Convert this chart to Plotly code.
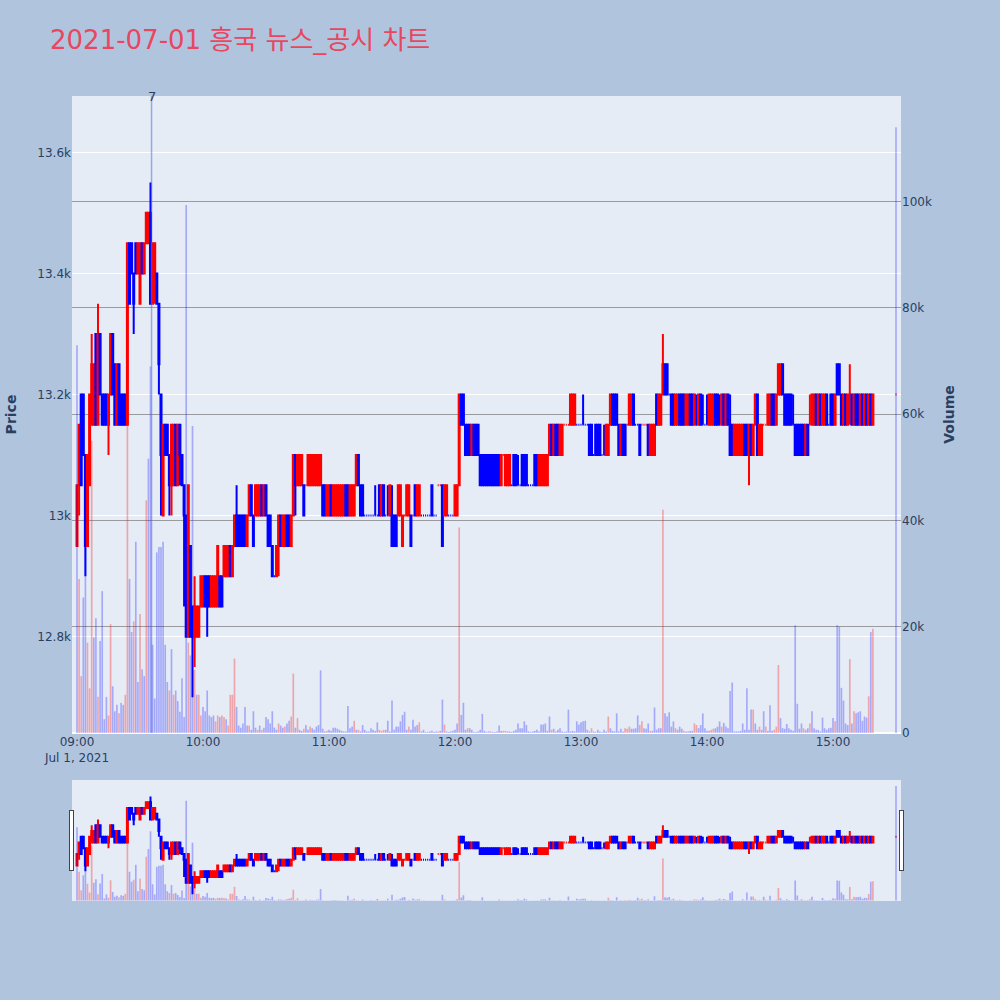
import pandas as pd
import plotly.graph_objects as go
from plotly.subplots import make_subplots

# ---------------- data (1-minute candles, 09:00 .. 15:19, plus 15:30 closing auction) ----------------
opens = [
    12950,13050,13200,13200,13100,12950,13050,13150,13150,13300,
    13150,13300,13200,13200,13200,13150,13200,13300,13250,13150,
    13250,13200,13200,13200,13150,13450,13450,13400,13450,13400,
    13350,13450,13400,13450,13450,13500,13350,13400,13400,13350,
    13200,13000,13150,13150,13100,13050,13050,13150,13050,13150,
    13100,13050,13000,12800,12950,12850,12800,12800,12800,12850,
    12850,12900,12900,12900,12850,12850,12850,12850,12900,12900,
    12900,12900,12900,12950,12900,12950,13000,13000,13000,13000,
    13000,12950,13000,13050,13000,13000,13000,13000,13050,13000,
    13050,13000,13000,12950,12900,12900,12950,13000,12950,12950,
    13000,13000,12950,13000,13100,13050,13050,13050,13050,13050,
    13050,13050,13050,13050,13050,13050,13050,13050,13050,13000,
    13000,13050,13000,13000,13000,13000,13000,13000,13050,13050,
    13000,13000,13000,13050,13100,13050,13050,13000,13000,13000,
    13000,13000,13000,13000,13050,13000,13050,13000,13000,13000,
    13000,13000,13000,13000,13000,12950,13000,13000,13000,13000,
    13000,13050,13000,13000,13000,13000,13000,13000,13000,13050,
    13000,13000,13050,13050,13050,13000,13000,13000,13000,13000,
    13000,13000,13050,13200,13200,13150,13150,13150,13100,13150,
    13150,13150,13100,13100,13100,13100,13100,13100,13100,13100,
    13100,13100,13050,13100,13050,13050,13050,13050,13100,13100,
    13050,13050,13100,13100,13100,13050,13050,13050,13100,13100,
    13050,13050,13050,13050,13050,13100,13150,13100,13150,13150,
    13100,13100,13150,13150,13150,13150,13150,13150,13150,13150,
    13150,13150,13150,13150,13150,13150,13100,13150,13150,13150,
    13100,13100,13100,13100,13150,13200,13200,13200,13150,13100,
    13150,13150,13150,13150,13150,13200,13150,13150,13150,13150,
    13150,13150,13150,13100,13100,13100,13200,13150,13150,13200,
    13250,13250,13200,13200,13200,13150,13150,13200,13200,13200,
    13150,13150,13200,13200,13150,13150,13150,13200,13150,13150,
    13150,13150,13150,13150,13200,13200,13150,13150,13200,13150,
    13200,13150,13150,13100,13100,13100,13100,13100,13150,13150,
    13100,13150,13100,13150,13200,13100,13100,13150,13150,13150,
    13150,13200,13200,13150,13200,13200,13250,13200,13200,13200,
    13200,13150,13150,13150,13150,13150,13150,13100,13150,13150,
    13150,13150,13200,13150,13200,13150,13150,13200,13150,13200,
    13200,13150,13250,13250,13200,13150,13200,13150,13200,13200,
    13150,13200,13200,13150,13200,13150,13200,13150,13200,13150,
    13200,
]
highs = [
    13050,13150,13200,13200,13100,13100,13200,13300,13250,13300,
    13350,13300,13200,13200,13200,13200,13300,13300,13250,13250,
    13250,13200,13200,13200,13450,13450,13450,13400,13450,13450,
    13450,13450,13450,13500,13500,13550,13450,13450,13400,13350,
    13200,13150,13150,13150,13100,13150,13150,13150,13150,13150,
    13100,13050,13000,13050,12950,12850,12900,12850,12850,12900,
    12900,12900,12900,12900,12900,12900,12900,12950,12900,12900,
    12950,12950,12950,12950,12950,13000,13050,13000,13000,13000,
    13000,13000,13050,13050,13000,13050,13050,13050,13050,13050,
    13050,13000,13000,12950,12900,12950,13000,13000,13000,13000,
    13000,13000,13000,13100,13100,13100,13100,13100,13050,13050,
    13100,13100,13100,13100,13100,13100,13100,13050,13050,13050,
    13050,13050,13050,13050,13050,13050,13050,13050,13050,13050,
    13050,13050,13050,13100,13100,13050,13050,13000,13000,13000,
    13000,13000,13050,13000,13050,13050,13050,13000,13050,13050,
    13050,13000,13000,13050,13050,13000,13000,13050,13050,13000,
    13000,13050,13050,13050,13000,13000,13000,13000,13000,13050,
    13000,13000,13050,13050,13050,13050,13050,13000,13000,13000,
    13050,13050,13200,13200,13200,13150,13150,13150,13150,13150,
    13150,13150,13100,13100,13100,13100,13100,13100,13100,13100,
    13100,13100,13100,13100,13100,13100,13100,13050,13100,13100,
    13100,13050,13100,13100,13100,13050,13050,13050,13100,13100,
    13100,13100,13100,13100,13100,13150,13150,13150,13150,13150,
    13150,13150,13150,13150,13150,13200,13200,13200,13150,13150,
    13150,13200,13150,13150,13150,13150,13100,13150,13150,13150,
    13100,13150,13150,13150,13200,13200,13200,13200,13150,13150,
    13150,13150,13150,13200,13200,13200,13150,13150,13150,13150,
    13150,13150,13150,13150,13150,13150,13200,13200,13200,13300,
    13250,13250,13200,13200,13200,13200,13200,13200,13200,13200,
    13200,13200,13200,13200,13200,13200,13200,13200,13200,13150,
    13200,13200,13200,13200,13200,13200,13200,13200,13200,13200,
    13200,13200,13150,13150,13150,13150,13150,13150,13150,13150,
    13150,13150,13150,13200,13200,13150,13150,13150,13150,13200,
    13200,13200,13200,13200,13250,13250,13250,13200,13200,13200,
    13200,13200,13150,13150,13150,13150,13150,13150,13150,13200,
    13200,13200,13200,13200,13200,13200,13200,13200,13150,13200,
    13200,13200,13250,13250,13200,13200,13200,13200,13250,13200,
    13200,13200,13200,13200,13200,13200,13200,13200,13200,13200,
    13200,
]
lows = [
    12950,13000,13050,13100,12900,12950,13050,13150,13150,13150,
    13150,13200,13150,13150,13150,13100,13200,13200,13150,13150,
    13150,13150,13150,13150,13150,13350,13400,13300,13400,13400,
    13350,13400,13400,13450,13450,13350,13350,13350,13350,13200,
    13000,13000,13100,13100,13000,13000,13050,13050,13050,13050,
    13050,12850,12800,12800,12800,12700,12750,12800,12800,12850,
    12850,12850,12800,12850,12850,12850,12850,12850,12850,12850,
    12900,12900,12900,12900,12900,12950,12950,12950,12950,12950,
    12950,12950,13000,13000,12950,13000,13000,13000,13000,13000,
    13000,12950,12950,12900,12900,12900,12900,12950,12950,12950,
    12950,12950,12950,13000,13000,13050,13050,13050,13000,13050,
    13050,13050,13050,13050,13050,13050,13050,13000,13000,13000,
    13000,13000,13000,13000,13000,13000,13000,13000,13000,13000,
    13000,13000,13000,13050,13050,13000,13000,13000,13000,13000,
    13000,13000,13000,13000,13000,13000,13000,13000,13000,13000,
    12950,12950,12950,13000,13000,12950,13000,13000,13000,12950,
    13000,13000,13000,13000,13000,13000,13000,13000,13000,13000,
    13000,13000,13050,13050,12950,13000,13000,13000,13000,13000,
    13000,13000,13050,13150,13150,13100,13100,13100,13100,13100,
    13100,13100,13050,13050,13050,13050,13050,13050,13050,13050,
    13050,13050,13050,13100,13050,13050,13050,13050,13050,13050,
    13050,13050,13050,13050,13050,13050,13050,13050,13050,13050,
    13050,13050,13050,13050,13050,13100,13100,13100,13100,13100,
    13100,13100,13150,13150,13150,13150,13150,13150,13150,13150,
    13150,13150,13150,13150,13100,13100,13100,13100,13100,13100,
    13100,13100,13100,13100,13150,13150,13150,13150,13100,13100,
    13100,13100,13150,13150,13150,13150,13150,13150,13100,13150,
    13150,13150,13100,13100,13100,13100,13150,13150,13150,13200,
    13200,13200,13200,13150,13150,13150,13150,13150,13150,13150,
    13150,13150,13150,13150,13150,13150,13150,13150,13150,13150,
    13150,13150,13150,13150,13150,13150,13150,13150,13150,13150,
    13150,13100,13100,13100,13100,13100,13100,13100,13100,13100,
    13050,13100,13100,13150,13100,13100,13100,13150,13150,13150,
    13150,13150,13150,13150,13200,13200,13200,13150,13150,13150,
    13150,13150,13100,13100,13100,13100,13100,13100,13100,13150,
    13150,13150,13150,13150,13150,13150,13150,13150,13150,13150,
    13150,13150,13200,13200,13150,13150,13150,13150,13150,13150,
    13150,13150,13150,13150,13150,13150,13150,13150,13150,13150,
    13200,
]
closes = [
    13050,13150,13050,13100,12950,13100,13200,13250,13250,13150,
    13300,13200,13150,13150,13150,13200,13300,13200,13150,13250,
    13150,13150,13150,13150,13450,13350,13400,13350,13400,13450,
    13450,13400,13450,13500,13500,13350,13450,13450,13350,13250,
    13100,13150,13100,13100,13050,13150,13150,13050,13150,13100,
    13050,13000,12800,13050,12800,12800,12850,12850,12850,12900,
    12900,12850,12850,12850,12900,12900,12900,12950,12850,12850,
    12950,12950,12950,12900,12950,13000,12950,12950,12950,12950,
    12950,13000,13050,13000,12950,13050,13050,13050,13000,13050,
    13000,12950,12950,12900,12900,12950,13000,12950,13000,13000,
    12950,12950,13000,13100,13050,13100,13100,13100,13000,13050,
    13100,13100,13100,13100,13100,13100,13100,13000,13000,13050,
    13050,13000,13050,13050,13050,13050,13050,13050,13000,13000,
    13050,13050,13050,13100,13050,13000,13000,13000,13000,13000,
    13000,13000,13000,13000,13000,13050,13000,13000,13000,13050,
    12950,12950,12950,13050,13050,13000,13000,13050,13050,12950,
    13000,13000,13050,13050,13000,13000,13000,13000,13000,13000,
    13000,13000,13050,13050,12950,13050,13050,13000,13000,13000,
    13050,13050,13200,13150,13150,13100,13100,13100,13150,13100,
    13100,13100,13050,13050,13050,13050,13050,13050,13050,13050,
    13050,13050,13100,13100,13100,13100,13100,13050,13050,13050,
    13050,13050,13050,13050,13050,13050,13050,13050,13050,13050,
    13100,13100,13100,13100,13100,13150,13100,13150,13100,13100,
    13150,13150,13150,13150,13150,13200,13200,13200,13150,13150,
    13150,13150,13150,13150,13100,13100,13100,13100,13100,13100,
    13100,13100,13150,13150,13200,13150,13150,13150,13100,13150,
    13100,13100,13150,13200,13200,13150,13150,13150,13100,13150,
    13150,13150,13100,13150,13150,13150,13150,13200,13200,13250,
    13200,13200,13200,13150,13150,13200,13200,13150,13150,13150,
    13200,13200,13150,13150,13200,13150,13200,13150,13150,13150,
    13150,13200,13200,13200,13150,13150,13150,13200,13150,13200,
    13150,13100,13100,13150,13150,13150,13150,13150,13100,13100,
    13150,13100,13150,13200,13100,13150,13150,13150,13150,13200,
    13200,13150,13150,13200,13250,13250,13200,13150,13150,13150,
    13150,13150,13100,13100,13100,13100,13100,13150,13100,13150,
    13200,13200,13150,13200,13150,13200,13200,13150,13150,13150,
    13150,13200,13200,13200,13150,13200,13150,13200,13200,13150,
    13200,13150,13150,13200,13150,13200,13150,13200,13150,13200,
    13200,
]
volumes = [
    73000,29000,10700,25500,48000,17000,8400,55000,18000,21600,
    6800,17300,26700,2600,6800,3300,20500,8800,4100,5300,
    3700,5700,5300,7200,63000,29000,19000,21000,36000,9600,
    22400,12000,10700,43800,51600,69000,16600,6500,34000,35000,
    35000,36000,16600,9600,8000,15800,7200,8000,6000,4000,
    10300,3000,99400,17000,14600,57800,11900,7200,7200,3300,
    4900,4100,8000,3300,3000,3300,2200,3300,3000,3300,
    3000,2600,1400,7200,7200,14000,4900,1400,1000,1800,
    4900,1400,1400,600,4100,1000,600,1400,600,1000,
    3000,2600,1800,4100,1000,600,1800,1400,1000,1200,
    1800,2300,3100,11200,1000,2800,600,400,800,1500,
    600,1200,900,600,1200,1500,11800,800,300,400,
    600,400,1000,1000,800,600,400,300,300,5100,
    900,1200,2300,600,600,300,1500,600,300,300,
    900,600,400,2000,600,400,600,600,2300,300,
    6100,600,1200,1200,2200,3400,4000,600,1200,600,
    2500,1200,1500,2000,300,600,200,200,300,400,
    200,300,300,400,6300,1600,300,200,300,400,
    600,1800,38700,3400,5700,600,900,900,600,200,
    200,300,600,3600,400,200,300,300,200,200,
    300,1400,400,400,400,300,300,200,400,600,
    1800,900,900,2200,1500,300,200,300,400,600,
    300,1600,1600,1800,400,3100,600,800,300,600,
    900,300,200,300,4400,300,400,300,2200,1600,
    2000,2200,2300,600,300,900,300,200,600,300,
    200,600,300,3100,900,400,300,3700,300,800,
    300,900,800,1200,800,800,900,3300,1500,2200,
    900,800,1800,400,400,4800,600,900,900,42000,
    3700,3100,3900,1200,2200,900,600,1200,800,400,
    300,300,400,400,1800,1500,900,1500,3700,900,
    400,400,600,800,900,1200,2200,1200,1900,1200,
    900,7900,9500,300,300,300,400,1800,600,8400,
    600,4400,4400,1800,600,1200,600,4100,1200,400,
    5200,400,600,1200,12800,2800,900,800,1700,900,
    600,400,20300,5500,800,1800,900,600,900,1800,
    4100,900,600,600,300,2900,900,600,900,1000,
    2800,2200,20300,20000,8500,6100,1800,1500,13900,1800,
    4100,3700,3900,4100,2300,3100,2900,6900,19000,19600,
    114000,
]
# indices of minutes whose volume bar is drawn red
red_volume_idx = [1, 2, 5, 6, 7, 10, 15, 16, 20, 23, 24, 27, 30, 33, 44, 46, 53, 56, 58, 59,
                  66, 67, 69, 70, 72, 73, 74, 75, 82, 86, 88, 96, 99, 102, 103, 105, 108, 111,
                  119, 132, 134, 144, 145, 146, 158, 163, 172, 175, 182, 186, 197, 203, 204,
                  226, 245, 253, 261, 262, 263, 268, 269, 273, 279, 285, 289, 294, 295, 302,
                  303, 307, 322, 325, 328, 332, 333, 334, 346, 349, 361, 368, 370, 377, 379]

session_start = "2021-07-01 09:00"
closing_auction = "2021-07-01 15:30"
news_time = "2021-07-01 09:35:30"
news_label = "7"
title_text = "2021-07-01 흥국 뉴스_공시 차트"

times = list(pd.date_range(session_start, periods=len(opens) - 1, freq="min")) + [pd.Timestamp(closing_auction)]

red_set = set(red_volume_idx)
vol_colors = ["rgba(255,0,0,0.3)" if i in red_set else "rgba(0,0,255,0.28)" for i in range(len(volumes))]

fig = make_subplots(specs=[[{"secondary_y": True}]])
fig.add_trace(go.Candlestick(
    x=times, open=opens, high=highs, low=lows, close=closes, name="Price",
    increasing=dict(line=dict(color="red"), fillcolor="red"),
    decreasing=dict(line=dict(color="blue"), fillcolor="blue"),
    showlegend=False), secondary_y=False)
fig.add_trace(go.Bar(
    x=times, y=volumes, name="Volume", marker=dict(color=vol_colors, line=dict(width=0)),
    showlegend=False), secondary_y=True)

fig.add_shape(type="line", xref="x", yref="paper", x0=news_time, x1=news_time, y0=0, y1=1,
              line=dict(color="rgba(70,100,220,0.5)", width=1.5))
fig.add_annotation(x=news_time, xref="x", y=1, yref="paper", text=news_label, showarrow=False,
                   yanchor="middle", font=dict(size=13, color="#2a3f5f"))

fig.update_layout(
    width=1000, height=1000,
    font=dict(family="DejaVu Sans, Noto Sans CJK KR, sans-serif"),
    paper_bgcolor="#B0C4DE", plot_bgcolor="#E5ECF6",
    margin=dict(l=72, r=99, t=96, b=100),
    title=dict(text=title_text, x=0.05, xanchor="left", y=0.96, yanchor="middle",
               font=dict(size=26, color="rgb(233,70,95)")),
    showlegend=False,
    bargap=0.2,
)
fig.update_xaxes(type="date", domain=[0, 1],
                 range=["2021-07-01 08:57:37", "2021-07-01 15:32:23"],
                 rangeslider=dict(visible=True, thickness=0.15, bgcolor="#E5ECF6"),
                 showgrid=False)
fig.update_yaxes(title=dict(text="<b>Price</b>", font=dict(size=14), standoff=17),
                 range=[12641, 13693], automargin=False,
                 gridcolor="white", secondary_y=False)
fig.update_yaxes(title=dict(text="<b>Volume</b>", font=dict(size=14), standoff=13),
                 range=[0, 119900], automargin=False,
                 gridcolor="rgba(128,128,128,0.75)", showgrid=True, secondary_y=True)

fig.write_html("out.html", config={"displayModeBar": False},
               post_script="document.body.style.margin='0px';document.body.style.overflow='hidden';")
